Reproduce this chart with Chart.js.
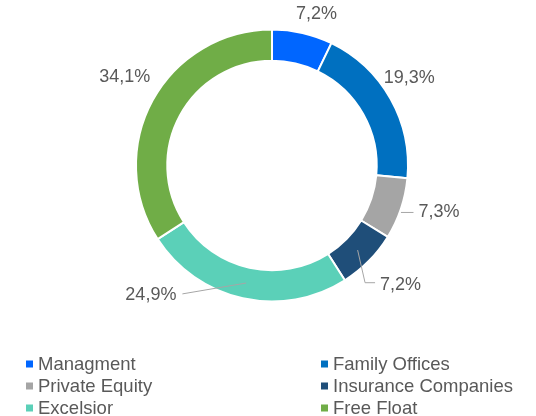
<!DOCTYPE html>
<html>
<head>
<meta charset="utf-8">
<script src="https://cdn.jsdelivr.net/npm/chart.js@4.4.1/dist/chart.umd.min.js"></script>
<style>
html, body { margin: 0; padding: 0; background: #fff; }
#chart { display: block; }
</style>
</head>
<body>
<canvas id="chart" width="536" height="416"></canvas>
<script>
var categories = ["Managment", "Family Offices", "Private Equity", "Insurance Companies", "Excelsior", "Free Float"];
var shares = [7.2, 19.3, 7.3, 7.2, 24.9, 34.1];

var sliceColors = ["#0066FF", "#0070C0", "#A5A5A5", "#1F4E79", "#5BD0B8", "#70AD47"];
var textColor = "#595959";
var font = "18px 'Liberation Sans', Arial, sans-serif";
var legendFont = "18.5px 'Liberation Sans', Arial, sans-serif";

// label placement tweaks (Excel style), leader: none / edge / elbow / mid
var labelTweaks = [
    { dx: 10, dy: -1, leader: null },
    { dx: 3, dy: -12, leader: null },
    { dx: 21, dy: -2, leader: "edge" },
    { dx: 19, dy: 11, leader: "elbow" },
    { dx: -88, dy: -21, leader: "mid" },
    { dx: -12, dy: -15, leader: null }
];

function fmt(v)
{
    return v.toFixed(1).replace(".", ",") + "%";
}

var pieLabels = {
    id: "pieLabels",
    afterDatasetsDraw: function(chart) {
        var c = chart.ctx;
        var meta = chart.getDatasetMeta(0);
        c.save();
        c.font = font;
        c.textBaseline = "middle";
        c.textAlign = "center";
        meta.data.forEach(function(arc, i) {
            var mid = (arc.startAngle + arc.endAngle) / 2;
            var cos = Math.cos(mid), sin = Math.sin(mid);
            var R = arc.outerRadius, r = arc.innerRadius;
            var t = labelTweaks[i];
            var lx = arc.x + (R + 18) * cos + t.dx;
            var ly = arc.y + (R + 18) * sin + t.dy;
            var txt = fmt(shares[i]);
            var w = c.measureText(txt).width;

            c.strokeStyle = "#A6A6A6";
            c.lineWidth = 1;
            if (t.leader == "edge") {
                c.beginPath();
                c.moveTo(arc.x + R * cos, ly);
                c.lineTo(lx - w / 2 - 5, ly);
                c.stroke();
            } else if (t.leader == "elbow") {
                c.beginPath();
                c.moveTo(arc.x + (R + r) / 2 * cos, arc.y + (R + r) / 2 * sin);
                c.lineTo(lx - w / 2 - 15, ly - 2);
                c.lineTo(lx - w / 2 - 5, ly - 2);
                c.stroke();
            } else if (t.leader == "mid") {
                c.beginPath();
                c.moveTo(arc.x + (R + r) / 2 * cos, arc.y + (R + r) / 2 * sin);
                c.lineTo(lx + w / 2 + 6, ly - 1);
                c.stroke();
            }

            c.fillStyle = textColor;
            c.fillText(txt, lx, ly);
        });
        c.restore();
    },
    afterDraw: function(chart) {
        // two column legend under the ring
        var c = chart.ctx;
        c.save();
        c.font = legendFont;
        c.textBaseline = "middle";
        c.textAlign = "left";
        var colX = [26, 321];
        for (var i = 0; i < categories.length; i++) {
            var x = colX[i % 2];
            var y = 364 + Math.floor(i / 2) * 22;
            c.fillStyle = sliceColors[i];
            c.fillRect(x, y - 3.5, 7, 7);
            c.fillStyle = textColor;
            c.fillText(categories[i], x + 12, y + 1);
        }
        c.restore();
    }
};

var ctx = document.getElementById("chart");
var myChart = new Chart(ctx, {
    type: "doughnut",
    data: {
        labels: categories,
        datasets: [
            {
                data: shares,
                backgroundColor: sliceColors,
                borderColor: "#ffffff",
                borderWidth: 2
            }
        ]
    },
    options: {
        responsive: false,
        animation: false,
        cutout: "77%",
        layout: { padding: { left: 135, right: 127, top: 28, bottom: 113 } },
        plugins: {
            legend: { display: false },
            tooltip: { enabled: false }
        }
    },
    plugins: [pieLabels]
});
</script>
</body>
</html>
